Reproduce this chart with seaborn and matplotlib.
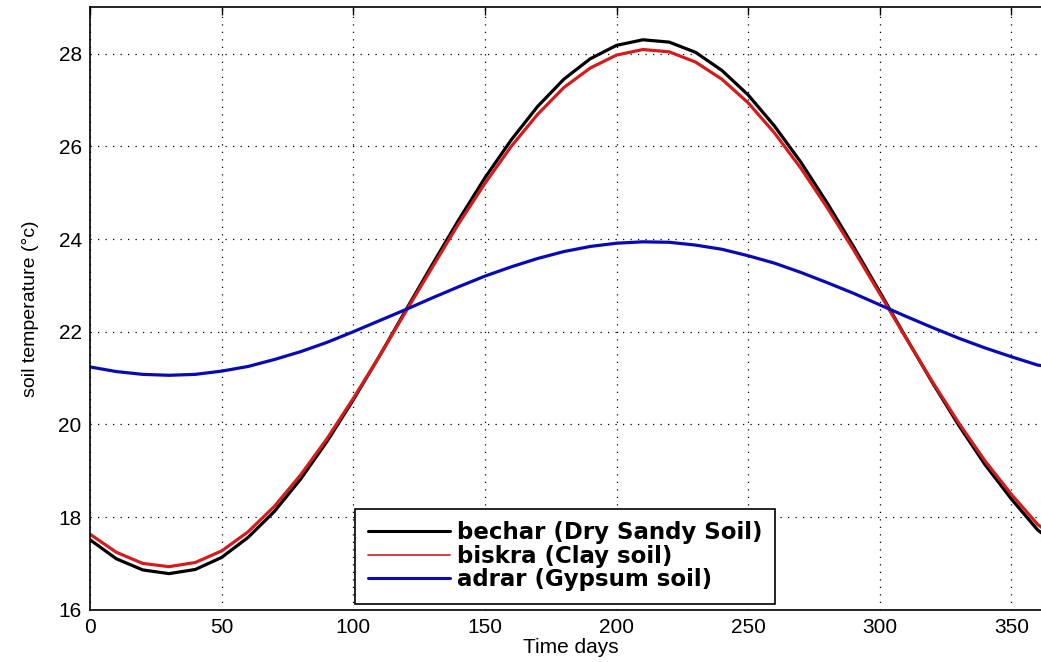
import numpy as np
import pandas as pd
import matplotlib
matplotlib.use('Agg')
import matplotlib.pyplot as plt
import seaborn as sns

# values (every 10 days)
days = [0, 10, 20, 30, 40, 50, 60, 70, 80, 90, 100, 110, 120, 130, 140, 150, 160, 170, 180,
        190, 200, 210, 220, 230, 240, 250, 260, 270, 280, 290, 300, 310, 320, 330, 340, 350, 360, 365]
bechar = [17.51, 17.10, 16.86, 16.78, 16.87, 17.13, 17.56, 18.12, 18.82, 19.63, 20.53, 21.48, 22.47,
          23.45, 24.41, 25.32, 26.14, 26.86, 27.45, 27.89, 28.18, 28.30, 28.25, 28.03, 27.64, 27.11,
          26.44, 25.66, 24.78, 23.84, 22.86, 21.87, 20.90, 19.98, 19.13, 18.39, 17.72, 17.51]
biskra = [17.63, 17.24, 17.00, 16.93, 17.02, 17.27, 17.68, 18.23, 18.91, 19.69, 20.56, 21.48, 22.44,
          23.39, 24.33, 25.20, 26.00, 26.69, 27.27, 27.69, 27.97, 28.09, 28.04, 27.82, 27.45, 26.94,
          26.29, 25.53, 24.68, 23.77, 22.82, 21.86, 20.92, 20.03, 19.21, 18.49, 17.84, 17.63]
adrar = [21.24, 21.14, 21.08, 21.06, 21.08, 21.15, 21.25, 21.40, 21.57, 21.77, 22.00, 22.24, 22.48,
         22.73, 22.97, 23.20, 23.40, 23.58, 23.73, 23.84, 23.91, 23.94, 23.93, 23.87, 23.78, 23.64,
         23.48, 23.28, 23.06, 22.83, 22.58, 22.33, 22.09, 21.86, 21.65, 21.46, 21.28, 21.24]

labels = ['bechar (Dry Sandy Soil)', 'biskra (Clay soil)', 'adrar (Gypsum soil)']
colors = ['#000000', '#d41c1c', '#0a0ab4']
x_ticks = [0, 50, 100, 150, 200, 250, 300, 350]
y_ticks = [16, 18, 20, 22, 24, 26, 28]

df = pd.concat([
    pd.DataFrame({'day': days, 'temp': vals, 'site': lab})
    for vals, lab in zip([bechar, biskra, adrar], labels)
])

sns.set_style('white')
plt.rcParams['font.family'] = ['Liberation Sans', 'DejaVu Sans']
plt.rcParams['text.color'] = 'black'
plt.rcParams['axes.labelcolor'] = 'black'

fig = plt.figure(figsize=(10.41, 6.62), dpi=100)
ax = fig.add_axes([0.0865, 0.0789, 0.923, 0.910])

sns.lineplot(data=df, x='day', y='temp', hue='site', hue_order=labels,
             palette=dict(zip(labels, colors)), linewidth=2.3, ax=ax)

ax.set_xlim(0, 365)
ax.set_ylim(16, 29)
ax.set_xticks(x_ticks)
ax.set_yticks(y_ticks)
ax.grid(True, color='black', linestyle=(0, (1, 5)), linewidth=0.9)
ax.tick_params(direction='in', length=6, width=1, top=True, right=True,
               labelsize=15, colors='black', pad=6)
for sp in ax.spines.values():
    sp.set_color('black')
    sp.set_linewidth(1.2)

ax.set_xlabel('Time days', fontsize=15, labelpad=1)
ax.set_ylabel('soil temperature (°c)', fontsize=14, labelpad=14)

leg = ax.legend(loc='lower left', bbox_to_anchor=(0.276, 0.0096), borderaxespad=0,
                frameon=True, fancybox=False, edgecolor='black', framealpha=1,
                handlelength=3.6, handletextpad=0.3, labelspacing=0.02,
                borderpad=0.55, prop={'weight': 'bold', 'size': 16.5, 'family': 'DejaVu Sans'})
leg.get_frame().set_linewidth(1.2)
for h, w in zip(leg.get_lines(), [2.2, 1.2, 2.2]):
    h.set_linewidth(w)
for t in leg.get_texts():
    t.set_color('black')

fig.savefig('out.png', dpi=100)
